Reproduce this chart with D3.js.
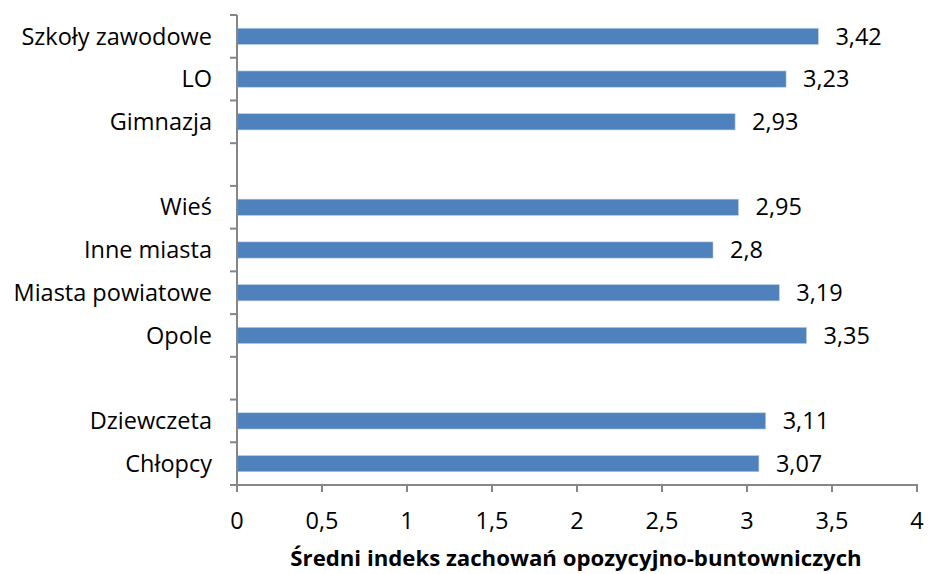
<!DOCTYPE html>
<html><head><meta charset="utf-8">
<script src="https://cdn.jsdelivr.net/npm/d3@7"></script>
<style>body{margin:0;background:#fff}</style>
</head><body>
<svg id="c" width="928" height="574"></svg>
<script>
const categories = ["Szkoły zawodowe","LO","Gimnazja","","Wieś","Inne miasta","Miasta powiatowe","Opole","","Dziewczeta","Chłopcy"];
const values = [3.42,3.23,2.93,null,2.95,2.8,3.19,3.35,null,3.11,3.07];
const valueLabels = ["3,42","3,23","2,93","","2,95","2,8","3,19","3,35","","3,11","3,07"];
const xTicks = [0,0.5,1,1.5,2,2.5,3,3.5,4];
const xTickLabels = ["0","0,5","1","1,5","2","2,5","3","3,5","4"];
const xTitle = "Średni indeks zachowań opozycyjno-buntowniczych";

const font = "'Open Sans', sans-serif";
const fs = 23.5;
const svg = d3.select("#c");
const m = {l:237, r:917, t:15, b:485};
const x = d3.scaleLinear().domain([0,4]).range([m.l, m.r]);
const idx = categories.map((d,i)=>i);
const y = d3.scaleBand().domain(idx).range([m.t, m.b]).paddingInner(0.62).paddingOuter(0.31);
const yb = d3.scaleBand().domain(idx).range([m.t, m.b]);
const axisColor = "#868686";

// bars
svg.append("g").selectAll("rect").data(idx.filter(i=>values[i]!=null)).join("rect")
  .attr("x", x(0)).attr("y", i=>y(i))
  .attr("width", i=>x(values[i])-x(0)).attr("height", y.bandwidth())
  .attr("fill","#4F81BD").attr("stroke","#B9CDE5").attr("stroke-width",0.6);

// value labels
svg.append("g").selectAll("text").data(idx.filter(i=>values[i]!=null)).join("text")
  .attr("x", i=>x(values[i])+17).attr("y", i=>y(i)+y.bandwidth()/2)
  .attr("dy","0.35em").attr("font-family",font).attr("font-size",fs).attr("fill","#000")
  .text(i=>valueLabels[i]);

// y axis
const ga = svg.append("g");
ga.append("line").attr("x1",m.l).attr("x2",m.l).attr("y1",m.t).attr("y2",m.b).attr("stroke",axisColor).attr("stroke-width",2);
const yTickPos = idx.map(i=>yb(i)).concat([m.b]);
ga.selectAll(".yt").data(yTickPos).join("line").attr("class","yt")
  .attr("x1",m.l-7).attr("x2",m.l).attr("y1",d=>d).attr("y2",d=>d).attr("stroke",axisColor).attr("stroke-width",2);
ga.selectAll(".yl").data(idx.filter(i=>categories[i])).join("text").attr("class","yl")
  .attr("x",m.l-25).attr("y",i=>yb(i)+yb.bandwidth()/2).attr("dy","0.35em")
  .attr("text-anchor","end").attr("font-family",font).attr("font-size",fs).attr("fill","#000")
  .text(i=>categories[i]);

// x axis
ga.append("line").attr("x1",m.l).attr("x2",m.r+1).attr("y1",m.b).attr("y2",m.b).attr("stroke",axisColor).attr("stroke-width",2);
ga.selectAll(".xt").data(xTicks).join("line").attr("class","xt")
  .attr("x1",d=>x(d)).attr("x2",d=>x(d)).attr("y1",m.b).attr("y2",m.b+7).attr("stroke",axisColor).attr("stroke-width",2);
ga.selectAll(".xl").data(xTicks).join("text").attr("class","xl")
  .attr("x",d=>x(d)).attr("y",m.b+36).attr("dy","0.35em").attr("text-anchor","middle")
  .attr("font-family",font).attr("font-size",fs).attr("fill","#000")
  .text((d,i)=>xTickLabels[i]);

svg.append("text").attr("x",(m.l+m.r)/2 - 1).attr("y",558).attr("dy","0.35em").attr("text-anchor","middle")
  .attr("font-family",font).attr("font-size",22.2).attr("font-weight","bold").attr("fill","#000")
  .text(xTitle);
</script>
</body></html>
